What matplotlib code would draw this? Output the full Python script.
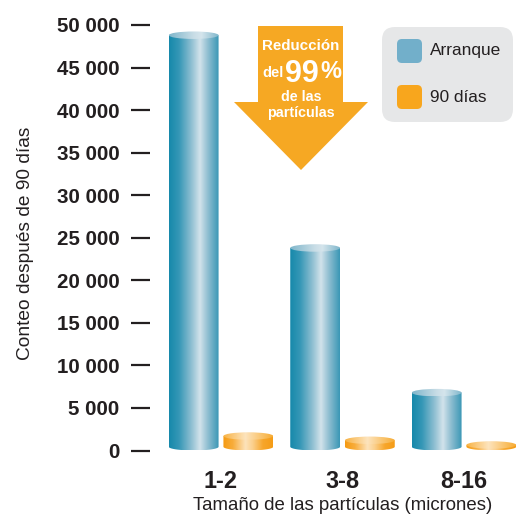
import numpy as np
import matplotlib
matplotlib.use("Agg")
import matplotlib.pyplot as plt
from matplotlib.path import Path
from matplotlib.patches import PathPatch, Ellipse, Polygon, FancyBboxPatch
from matplotlib.colors import LinearSegmentedColormap

plt.rcParams['font.family'] = ['Liberation Sans', 'DejaVu Sans']

# ---- data ----
categories = ["1-2", "3-8", "8-16"]
series_names = ["Arranque", "90 días"]
arranque = [48800, 23800, 6800]
dias90 = [1700, 1200, 650]
yticks = [0, 5000, 10000, 15000, 20000, 25000, 30000, 35000, 40000, 45000, 50000]
ytick_labels = ["0", "5 000", "10 000", "15 000", "20 000", "25 000",
                "30 000", "35 000", "40 000", "45 000", "50 000"]
ylabel = "Conteo después de 90 días"
xlabel = "Tamaño de las partículas (micrones)"

W, H = 517, 516
fig = plt.figure(figsize=(W / 100, H / 100), dpi=100)
canvas = fig.canvas


def fit(t, target, vertical=False):
    canvas.draw()
    r = canvas.get_renderer()
    bb = t.get_window_extent(r)
    w = bb.height if vertical else bb.width
    t.set_fontsize(t.get_fontsize() * target / w)


# axes geometry (pixels)
ax_left, ax_right = 150, 517
ax_top, ax_bot = 10, 460
axw, axh = ax_right - ax_left, ax_bot - ax_top
ax = fig.add_axes([ax_left / W, (H - ax_bot) / H, axw / W, axh / H])

px_per_cat = 121.5
x0cat = 221
xlim = ((ax_left - x0cat) / px_per_cat, (ax_right - x0cat) / px_per_cat)
px_per_unit = 8.51 / 1000
zero_px = 450.5
ylim = ((zero_px - ax_bot) / px_per_unit, (zero_px - ax_top) / px_per_unit)

blue_cmap = LinearSegmentedColormap.from_list("b", [
    (0.0, "#1689ab"), (0.2, "#3597b6"), (0.45, "#8fbfd2"), (0.62, "#d2e3eb"),
    (0.78, "#8fbed1"), (1.0, "#3a97b5")])
blue_top = LinearSegmentedColormap.from_list("bt", [
    (0.0, "#7fb6cb"), (0.5, "#c9dde6"), (0.65, "#d5e5ec"), (1.0, "#7fb6cb")])
orange_cmap = LinearSegmentedColormap.from_list("o", [
    (0.0, "#f59a12"), (0.2, "#f8ad3c"), (0.45, "#fde3bb"), (0.6, "#fbcf8b"),
    (0.8, "#f7a62b"), (1.0, "#f59c16")])
orange_top = LinearSegmentedColormap.from_list("ot", [
    (0.0, "#f8b243"), (0.45, "#fde4bd"), (1.0, "#f7ac33")])

bar_w = 0.41
offset = 0.225
ell_h = 880  # data units (~7.5 px)
base_c = ell_h / 2
grad = np.linspace(0, 1, 256).reshape(1, -1)


def cylinder(xc, v, cmap, tcmap, z):
    x0, x1 = xc - bar_w / 2, xc + bar_w / 2
    t = np.linspace(np.pi, 2 * np.pi, 60)
    ex = xc + bar_w / 2 * np.cos(t)
    ey = base_c + ell_h / 2 * np.sin(t)
    verts = [(x0, v)] + list(zip(ex, ey)) + [(x1, v), (x0, v)]
    codes = [Path.MOVETO] + [Path.LINETO] * (len(verts) - 2) + [Path.CLOSEPOLY]
    body = PathPatch(Path(verts, codes), transform=ax.transData, facecolor="none", edgecolor="none")
    ax.add_patch(body)
    im = ax.imshow(grad, cmap=cmap, aspect="auto", extent=(x0, x1, 0, v + ell_h),
                   zorder=z, interpolation="bilinear")
    im.set_clip_path(body)
    top = Ellipse((xc, v), bar_w, ell_h, transform=ax.transData, facecolor="none", edgecolor="none")
    ax.add_patch(top)
    im2 = ax.imshow(grad, cmap=tcmap, aspect="auto",
                    extent=(x0, x1, v - ell_h / 2, v + ell_h / 2), zorder=z + 1,
                    interpolation="bilinear")
    im2.set_clip_path(top)


for i, (a, b) in enumerate(zip(arranque, dias90)):
    cylinder(i - offset, a, blue_cmap, blue_top, 2)
    cylinder(i + offset, b, orange_cmap, orange_top, 2)

ax.set_xlim(*xlim)
ax.set_ylim(*ylim)
for s in ax.spines.values():
    s.set_visible(False)
ax.patch.set_visible(False)

ax.set_yticks(yticks)
ax.set_yticklabels(ytick_labels, fontsize=15, fontweight="bold", color="#231f20")
ax.tick_params(axis="y", length=14, width=1.6, color="#231f20", pad=8, direction="out")
ax.set_xticks(range(len(categories)))
ax.set_xticklabels(categories, fontsize=16, fontweight="bold", color="#231f20")
ax.tick_params(axis="x", length=0, pad=7)

xl = ax.set_xlabel(xlabel, fontsize=13, color="#231f20")
yl = ax.set_ylabel(ylabel, fontsize=13, color="#231f20")
ax.xaxis.set_label_coords((343 - ax_left) / axw, -(505 - ax_bot) / axh)
xl.set_va("center")
ax.yaxis.set_label_coords((25 - ax_left) / axw, (ax_bot - 243) / axh)
yl.set_va("center")

# match text widths of the reference
fit(ax.get_yticklabels()[-1], 63)
fs = ax.get_yticklabels()[-1].get_fontsize()
for lab in ax.get_yticklabels():
    lab.set_fontsize(fs)
fit(ax.get_xticklabels()[0], 34)
fs = ax.get_xticklabels()[0].get_fontsize()
for lab in ax.get_xticklabels():
    lab.set_fontsize(fs)
fit(xl, 300)
fit(yl, 233, vertical=True)

# overlay for arrow and legend (pixel coordinates)
ov = fig.add_axes([0, 0, 1, 1], zorder=5)
ov.set_xlim(0, W)
ov.set_ylim(H, 0)
ov.axis("off")

arrow_col = "#f6a823"
cx = 301
arrow = Polygon([(258, 26), (343, 26), (343, 102), (368, 102), (cx, 170),
                 (234, 102), (258, 102)], closed=True, facecolor=arrow_col, edgecolor="none")
ov.add_patch(arrow)
tkw = dict(color="white", fontweight="bold", va="baseline")
t1 = ov.text(cx, 50, "Reducción", fontsize=13, ha="center", **tkw)
t2 = ov.text(262, 77, "del", fontsize=13, ha="left", **tkw)
t3 = ov.text(285, 82, "99", fontsize=24, ha="left", **tkw)
t4 = ov.text(320, 78, "%", fontsize=15, ha="left", **tkw)
t5 = ov.text(cx, 101, "de las", fontsize=13, ha="center", **tkw)
t6 = ov.text(cx, 117, "partículas", fontsize=13, ha="center", **tkw)
fit(t1, 77)
fit(t2, 21)
fit(t3, 34)
fit(t4, 21)
fit(t6, 67)
t5.set_fontsize(t6.get_fontsize())

# legend
leg_bg = FancyBboxPatch((382, 27), 131, 95, boxstyle="round,pad=0,rounding_size=13",
                        facecolor="#e6e7e8", edgecolor="none")
ov.add_patch(leg_bg)
legtexts = []
for j, (name, col) in enumerate(zip(series_names, ["#72afca", "#f8a61d"])):
    yc = 51 + j * 46
    ov.add_patch(FancyBboxPatch((397, yc - 12), 25, 24, boxstyle="round,pad=0,rounding_size=5",
                                facecolor=col, edgecolor="none"))
    legtexts.append(ov.text(430, yc, name, fontsize=14, color="#231f20", ha="left", va="center"))
fit(legtexts[0], 72)
legtexts[1].set_fontsize(legtexts[0].get_fontsize())

fig.savefig("out.png", dpi=100)
